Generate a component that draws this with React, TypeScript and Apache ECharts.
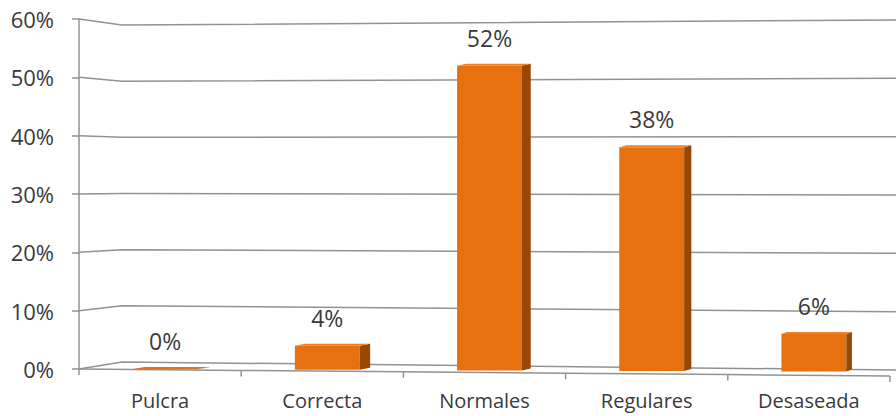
import React, { useEffect, useRef } from "react";
import * as echarts from "echarts";

const categories = ["Pulcra", "Correcta", "Normales", "Regulares", "Desaseada"];
const values = [0, 4, 52, 38, 6];
const yTicks = [0, 10, 20, 30, 40, 50, 60];

const GRID_LEFT = 79;
const GRID_TOP = 19;
const GRID_BOTTOM_Y = 369;
const WALL_X = 122;
const RIGHT_X = 896;
const FONT = "'Open Sans', 'Noto Sans', sans-serif";
const TEXT = "#3a3a3a";
const LINE = "#929292";

export default function App() {
  const ref = useRef<HTMLDivElement>(null);
  useEffect(() => {
    if (!ref.current) return;
    const chart = echarts.init(ref.current, undefined, { renderer: "svg" });
    const option: any = {
      animation: false,
      backgroundColor: "#ffffff",
      grid: { left: GRID_LEFT, right: 6, top: GRID_TOP, bottom: 416 - GRID_BOTTOM_Y, containLabel: false },
      xAxis: {
        type: "category",
        data: categories,
        axisLine: { show: false },
        axisTick: { show: false },
        axisLabel: { color: TEXT, fontFamily: FONT, fontSize: 20, margin: 21 },
      },
      yAxis: {
        type: "value",
        min: 0,
        max: 60,
        interval: 10,
        axisLine: { show: true, lineStyle: { color: LINE, width: 1.5 } },
        axisTick: { show: true, length: 7, lineStyle: { color: LINE, width: 1.5 } },
        splitLine: { show: false },
        axisLabel: { formatter: "{value}%", color: TEXT, fontFamily: FONT, fontSize: 22, margin: 25 },
      },
      series: [
        {
          type: "custom",
          z: 1,
          silent: true,
          data: yTicks.map((v) => [0, v]),
          encode: { x: 0, y: 1 },
          renderItem: (params: any, api: any) => {
            const yF = api.coord([0, api.value(1)])[1];
            const yL = 362 + (yF - GRID_BOTTOM_Y) * (337 / 350);
            const yR = yF + 1;
            return {
              type: "polyline",
              shape: { points: [[GRID_LEFT, yF], [WALL_X, yL], [RIGHT_X, yR]] },
              style: { stroke: LINE, lineWidth: 1.5, fill: null },
            };
          },
        },
        {
          type: "custom",
          z: 2,
          silent: true,
          data: categories.map((_, i) => [i, 0]),
          encode: { x: 0, y: 1 },
          renderItem: (params: any, api: any) => {
            const idx = api.value(0);
            const c = api.coord([idx, 0]);
            const band = api.size([1, 0])[0];
            const slope = 7 / 811;
            const x0 = c[0] - band / 2;
            const x1 = c[0] + band / 2;
            const y0 = GRID_BOTTOM_Y + (x0 - GRID_LEFT) * slope;
            const y1 = GRID_BOTTOM_Y + (x1 - GRID_LEFT) * slope;
            const children: any[] = [
              { type: "line", shape: { x1: x0, y1: y0, x2: x1, y2: y1 }, style: { stroke: LINE, lineWidth: 1.5 } },
              { type: "line", shape: { x1: x0, y1: y0, x2: x0, y2: y0 + 6 }, style: { stroke: LINE, lineWidth: 1.5 } },
            ];
            if (idx === categories.length - 1) {
              children.push({ type: "line", shape: { x1: x1, y1: y1, x2: x1, y2: y1 + 6 }, style: { stroke: LINE, lineWidth: 1.5 } });
            }
            return { type: "group", children };
          },
        },
        {
          type: "custom",
          z: 3,
          data: values.map((v, i) => [i, v]),
          encode: { x: 0, y: 1 },
          renderItem: (params: any, api: any) => {
            const idx = api.value(0);
            const v = api.value(1);
            const top = api.coord([idx, v]);
            const base = api.coord([idx, 0]);
            const band = api.size([1, 0])[0];
            const w = band * 0.4;
            const cx = top[0] + 5;
            const xl = cx - w / 2;
            const xr = cx + w / 2;
            const yt = top[1];
            const yb = Math.max(base[1] + (cx - GRID_LEFT) * 0.0035, yt);
            const depth = 12 - 1.6 * idx;
            const dy = 2;
            return {
              type: "group",
              children: [
                {
                  type: "polygon",
                  shape: { points: [[xl, yt], [xr, yt], [xr, yb], [xl, yb]] },
                  style: { fill: "#E8710F" },
                },
                {
                  type: "polygon",
                  shape: { points: [[xr, yt], [xr + depth, yt - dy], [xr + depth, yb - dy], [xr, yb]] },
                  style: { fill: "#974805" },
                },
                {
                  type: "polygon",
                  shape: { points: [[xl, yt], [xr, yt], [xr + depth, yt - dy], [xl + depth, yt - dy]] },
                  style: { fill: v === 0 ? "#D9742A" : "#EE7F24" },
                },
                {
                  type: "text",
                  style: {
                    x: cx,
                    y: yt - 28,
                    text: v + "%",
                    fill: TEXT,
                    font: "23px " + FONT,
                    align: "center",
                    verticalAlign: "middle",
                  },
                },
              ],
            };
          },
        },
      ],
    };
    chart.setOption(option);
    return () => chart.dispose();
  }, []);
  return (
    <div
      ref={ref}
      style={{ position: "fixed", left: 0, top: 0, width: 896, height: 416, background: "#fff" }}
    />
  );
}
